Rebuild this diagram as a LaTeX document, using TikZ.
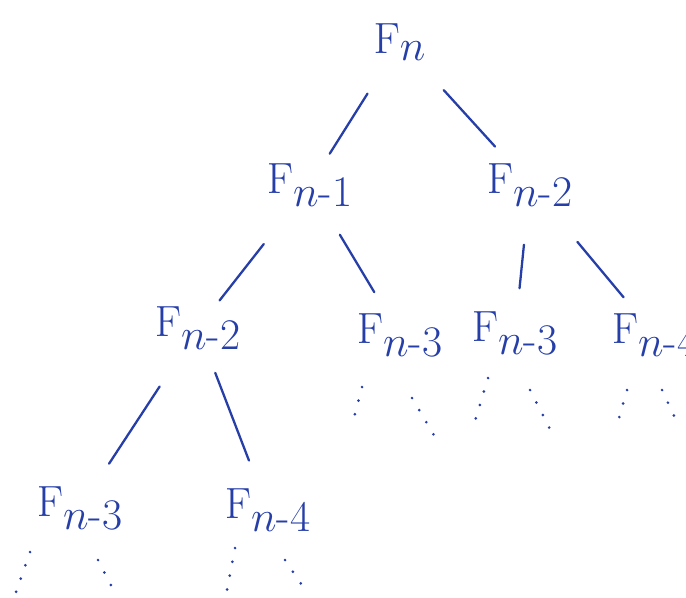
\documentclass[tikz,border=0pt]{standalone}
\usepackage{amsmath}
\usepackage{xcolor}
\usepackage{tikz}
\usetikzlibrary{calc}
\definecolor{ink}{RGB}{38,62,168}

\begin{document}
\begin{tikzpicture}[
    x=0.02cm, y=-0.02cm,
    call/.style={text=ink, font=\fontsize{36}{40}\selectfont, inner sep=0pt},
    link/.style={draw=ink, line width=1.3pt, line cap=round},
    more/.style={draw=ink, line width=1.7pt, line cap=round,
                 dash pattern=on 0pt off 8pt}
]
\useasboundingbox (0,0) rectangle (686,598);
\clip (0,0) rectangle (686,598);
% calls
\node[call] (fn)   at (400,42)  {$\mathrm{F}_{n}$};
\node[call] (fn1)  at (310,185) {$\mathrm{F}_{n\text{-}1}$};
\node[call] (fn2r) at (530,185) {$\mathrm{F}_{n\text{-}2}$};
\node[call] (fn2l) at (198,328) {$\mathrm{F}_{n\text{-}2}$};
\node[call] (fn3m) at (400,335) {$\mathrm{F}_{n\text{-}3}$};
\node[call] (fn3r) at (515,333) {$\mathrm{F}_{n\text{-}3}$};
\node[call] (fn4r) at (655,335) {$\mathrm{F}_{n\text{-}4}$};
\node[call] (fn3b) at (80,508)  {$\mathrm{F}_{n\text{-}3}$};
\node[call] (fn4b) at (268,510) {$\mathrm{F}_{n\text{-}4}$};
% recursive calls
\draw[link, shorten <=1.22cm, shorten >=0.74cm] (fn.center)   -- (fn1.center);
\draw[link, shorten <=1.30cm, shorten >=1.04cm] (fn.center)   -- (fn2r.center);
\draw[link, shorten <=1.50cm, shorten >=0.70cm] (fn1.center)  -- (fn2l.center);
\draw[link, shorten <=1.16cm, shorten >=1.00cm] (fn1.center)  -- (fn3m.center);
\draw[link, shorten <=1.20cm, shorten >=0.90cm] (fn2r.center) -- (fn3r.center);
\draw[link, shorten <=1.48cm, shorten >=0.98cm] (fn2r.center) -- (fn4r.center);
\draw[link, shorten <=1.40cm, shorten >=1.06cm] (fn2l.center) -- (fn3b.center);
\draw[link, shorten <=0.96cm, shorten >=1.06cm] (fn2l.center) -- (fn4b.center);
% and so on
\draw[more] ($(fn3m)+(-38,52)$) -- ($(fn3m)+(-48,90)$);
\draw[more] ($(fn3m)+(12,63)$)  -- ($(fn3m)+(35,102)$);
\draw[more] ($(fn3r)+(-27,45)$) -- ($(fn3r)+(-40,88)$);
\draw[more] ($(fn3r)+(15,57)$)  -- ($(fn3r)+(38,102)$);
\draw[more] ($(fn4r)+(-28,55)$) -- ($(fn4r)+(-38,90)$);
\draw[more] ($(fn4r)+(7,55)$)   -- ($(fn4r)+(22,87)$);
\draw[more] ($(fn3b)+(-50,44)$) -- ($(fn3b)+(-65,87)$);
\draw[more] ($(fn3b)+(18,52)$)  -- ($(fn3b)+(37,89)$);
\draw[more] ($(fn4b)+(-33,38)$) -- ($(fn4b)+(-41,80)$);
\draw[more] ($(fn4b)+(17,50)$)  -- ($(fn4b)+(40,84)$);
\end{tikzpicture}
\end{document}
